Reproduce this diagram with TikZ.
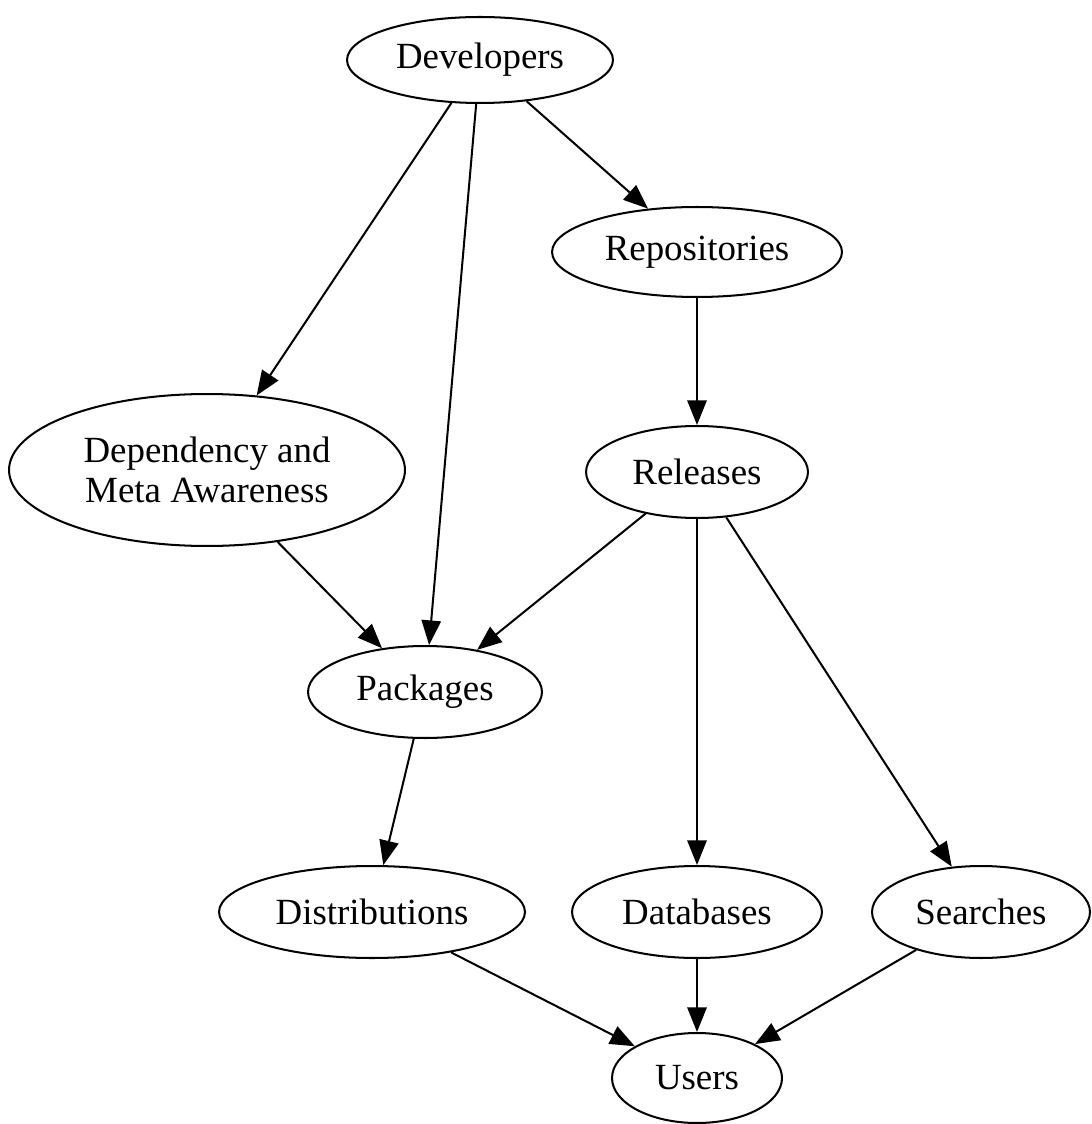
\documentclass[tikz,border=0pt]{standalone}
\usepackage{fontspec}
\setmainfont{Liberation Serif}
\usetikzlibrary{shapes.geometric,arrows.meta}
\begin{document}
\begin{tikzpicture}[x=0.02cm, y=-0.02cm
    , every node/.style={ellipse, draw, line width=1.15pt, inner sep=0pt, align=center, font=\fontsize{21}{23}\selectfont}
    , hgt/.style={minimum height=1.84cm}
    , arr/.style={-{Triangle[length=14pt, width=11pt]}, line width=1.15pt}
    ]
\useasboundingbox (0,0) rectangle (1091,1124);
% top rows
\node[minimum width=5.32cm, minimum height=1.72cm] (dev) at (480,60) {Developers};
\node[minimum width=5.8cm, minimum height=1.8cm] (repo) at (697,252) {Repositories};
\node[minimum width=7.92cm, minimum height=3.04cm] (meta) at (207,470) {Dependency and\\Meta Awareness};
\node[hgt, minimum width=4.44cm] (rel) at (697,472) {Releases};
\node[hgt, minimum width=4.68cm] (pkg) at (425,692) {Packages};
% bottom rows
\node[hgt, minimum width=6.12cm] (dist) at (372,912) {Distributions};
\node[hgt, minimum width=5.0cm] (db) at (697,912) {Databases};
\node[hgt, minimum width=4.36cm] (srch) at (981,912) {Searches};
\node[minimum width=3.4cm, minimum height=1.8cm] (usr) at (697,1078) {Users};
% edges
\draw[arr] (dev) -- (meta);
\draw[arr] (dev) -- (pkg);
\draw[arr] (dev) -- (repo);
\draw[arr] (repo) -- (rel);
\draw[arr] (meta) -- (pkg);
\draw[arr] (rel) -- (pkg);
\draw[arr] (rel) -- (db);
\draw[arr] (rel) -- (srch);
\draw[arr] (pkg) -- (dist);
\draw[arr] (dist) -- (usr);
\draw[arr] (db) -- (usr);
\draw[arr] (srch) -- (usr);
\end{tikzpicture}
\end{document}
